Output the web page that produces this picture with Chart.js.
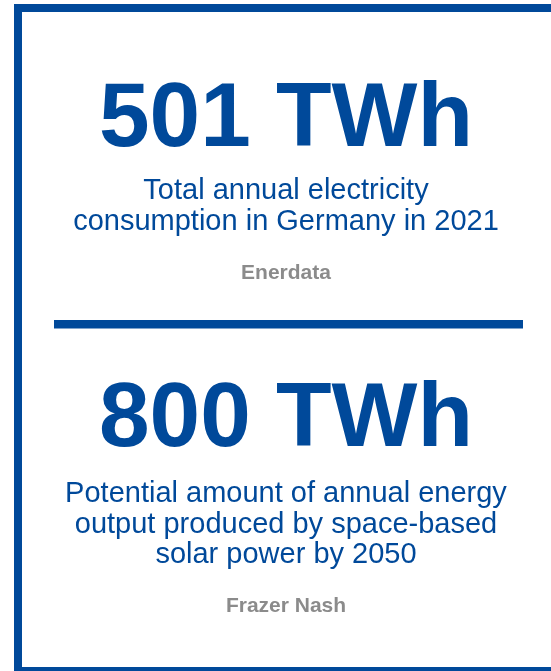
<!DOCTYPE html>
<html>
<head>
<meta charset="utf-8">
<script src="https://cdn.jsdelivr.net/npm/chart.js@4.4.1/dist/chart.umd.min.js"></script>
<style>
  html, body { margin: 0; padding: 0; background: #ffffff; }
  body { width: 551px; height: 671px; position: relative; overflow: hidden; font-family: "Liberation Sans", Arial, Helvetica, sans-serif; }
  #chart { position: absolute; left: 0; top: 0; }
  .t { position: absolute; left: 22px; width: 528px; text-align: center; white-space: nowrap; }
  .big { font-weight: bold; font-size: 91px; line-height: 91px; color: #00499a; }
  .desc { font-size: 29px; line-height: 30.5px; color: #00499a; }
  .src { font-weight: bold; font-size: 21px; line-height: 21px; color: #8b8b8b; }
</style>
</head>
<body>
<canvas id="chart" width="551" height="671"></canvas>
<div id="stats"></div>
<script>
// ---- data ----
const values = [501, 800];
const units = ["TWh", "TWh"];
const descriptions = [
  ["Total annual electricity", "consumption in Germany in 2021"],
  ["Potential amount of annual energy", "output produced by space-based", "solar power by 2050"]
];
const sources = ["Enerdata", "Frazer Nash"];

// ---- layout (positions kept separate from data) ----
const BLUE = "#00499a";
const blockTops = [
  { big: 69, desc: 174, src: 261 },
  { big: 369, desc: 477, src: 594 }
];

// Frame + divider drawn by a Chart.js plugin
const framePlugin = {
  id: "frame",
  afterDraw(chart) {
    const ctx = chart.ctx;
    ctx.save();
    ctx.fillStyle = BLUE;
    // top border
    ctx.fillRect(14, 4, 560, 8);
    // left border
    ctx.fillRect(14, 4, 8, 680);
    // bottom border
    ctx.fillRect(14, 667, 560, 8);
    // divider
    ctx.fillRect(54, 320, 469, 8.5);
    ctx.restore();
  }
};

new Chart(document.getElementById("chart"), {
  type: "bar",
  data: { labels: [], datasets: [] },
  options: {
    responsive: false,
    animation: false,
    events: [],
    plugins: { legend: { display: false }, tooltip: { enabled: false } },
    scales: { x: { display: false }, y: { display: false } }
  },
  plugins: [framePlugin]
});

// Text as real DOM text
const stats = document.getElementById("stats");
values.forEach((v, i) => {
  const big = document.createElement("div");
  big.className = "t big";
  big.style.top = blockTops[i].big + "px";
  big.textContent = v + " " + units[i];
  stats.appendChild(big);

  const desc = document.createElement("div");
  desc.className = "t desc";
  desc.style.top = blockTops[i].desc + "px";
  desc.innerHTML = descriptions[i].map(s => s.replace(/&/g, "&amp;").replace(/</g, "&lt;")).join("<br>");
  stats.appendChild(desc);

  const src = document.createElement("div");
  src.className = "t src";
  src.style.top = blockTops[i].src + "px";
  src.textContent = sources[i];
  stats.appendChild(src);
});
</script>
</body>
</html>
